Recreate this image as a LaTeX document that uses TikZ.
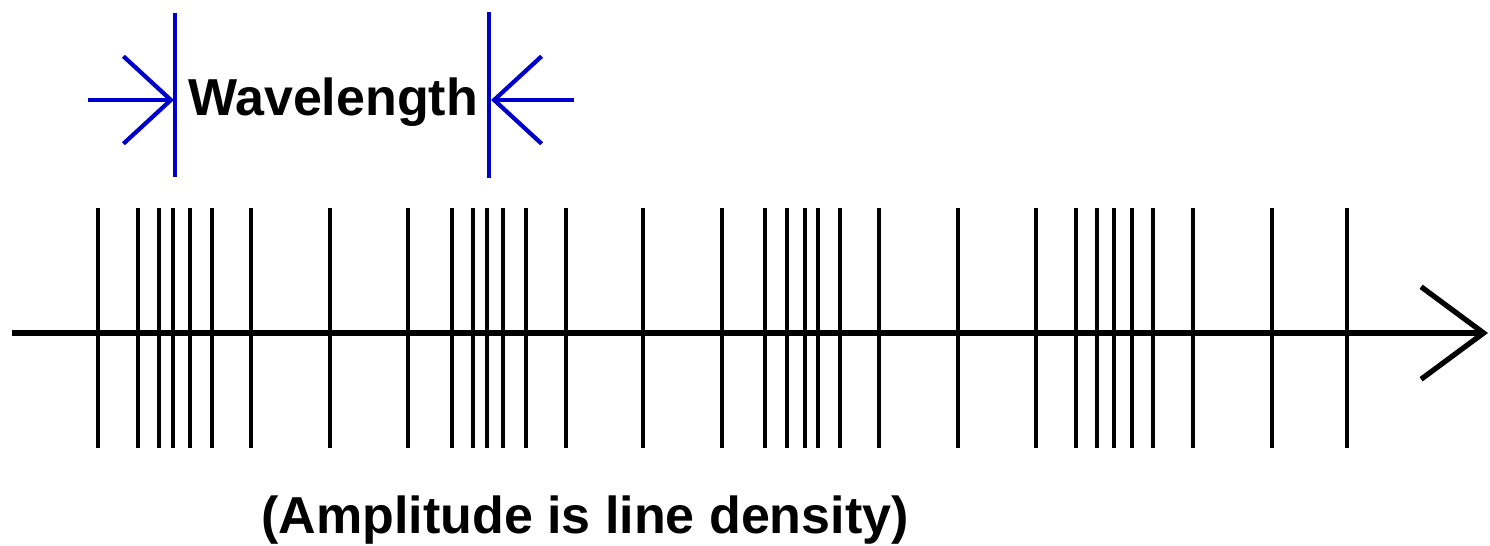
\documentclass[tikz,border=0pt]{standalone}
\usepackage{fontspec}
\setmainfont{Liberation Sans}
\usetikzlibrary{arrows.meta,positioning}

\begin{document}
\begin{tikzpicture}[x=0.02cm, y=-0.02cm,
  tick/.style={line width=1.8pt},
  axisline/.style={line width=3pt, -{Straight Barb[length=1.25cm, width=1.85cm]}},
  markline/.style={blue!80!black, line width=2.4pt},
  wavearrow/.style={blue!80!black, line width=2.4pt, -{Straight Barb[length=0.95cm, width=1.75cm]}},
  label/.style={font=\fontsize{29.6}{34}\selectfont\bfseries, inner sep=0pt}]
\useasboundingbox (0,0) rectangle (1490,545);
\coordinate (axstart) at (12,333);
\coordinate (axend) at (1488,333);
\foreach \x in {98,138,159,173,190,212,251,330,408,452,473,487,503,526,566,643,722,765,787,805,818,840,879,958,1036,1076,1097,1114,1132,1153,1193,1272,1347} {
  \draw[tick] (\x,208) -- (\x,448);
}
\draw[axisline] (axstart) -- (axend);
\coordinate (lefttop) at (175,13);
\coordinate (leftbot) at (175,177);
\coordinate (righttop) at (489,12);
\coordinate (rightbot) at (489,178);
\draw[markline] (lefttop) -- (leftbot);
\draw[markline] (righttop) -- (rightbot);
\coordinate (lefttail) at (88,100);
\coordinate (lefttip) at (174,100);
\coordinate (righttail) at (574,100);
\coordinate (righttip) at (491,100);
\draw[wavearrow] (lefttail) -- (lefttip);
\draw[wavearrow] (righttail) -- (righttip);
\node[label] (wave) at (333,102) {Wavelength};
\node[label] (density) at (585,520) {(Amplitude is line density)};
\end{tikzpicture}
\end{document}
